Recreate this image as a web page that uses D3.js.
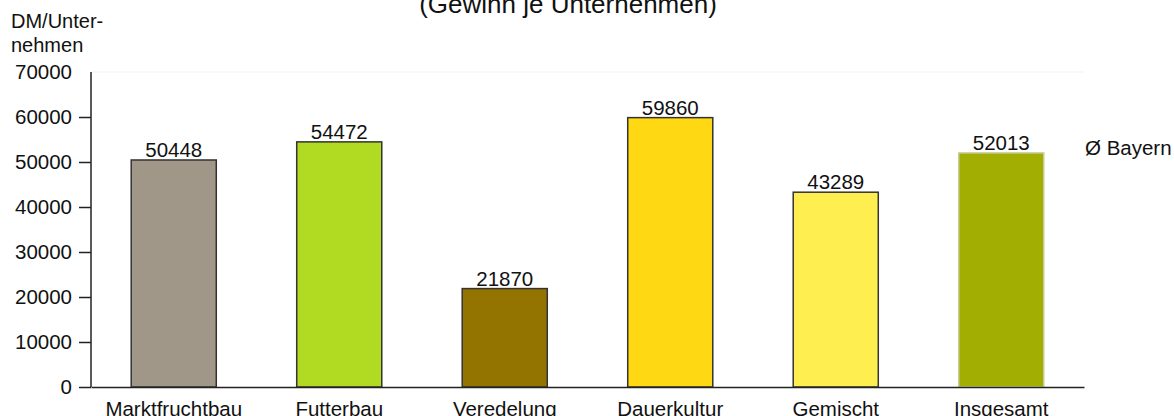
<!DOCTYPE html>
<html>
<head>
<meta charset="utf-8">
<script src="https://cdn.jsdelivr.net/npm/d3@7"></script>
<style>
  html, body { margin: 0; padding: 0; background: #fff; }
  svg { display: block; font-family: "Liberation Sans", Arial, sans-serif; }
</style>
</head>
<body>
<svg id="chart"></svg>
<script>
const categories = ["Marktfruchtbau", "Futterbau", "Veredelung", "Dauerkultur", "Gemischt", "Insgesamt"];
const values = [50448, 54472, 21870, 59860, 43289, 52013];
const yTicks = [0, 10000, 20000, 30000, 40000, 50000, 60000, 70000];
const barColors = ["#a09789", "#b1da22", "#947400", "#fed813", "#ffee4f", "#a3ae02"];
const barStrokes = ["#333", "#333", "#333", "#333", "#333", "#c9cc98"];

const width = 1174;
const height = 416;
const fs = "20.5px";

const svg = d3.select("#chart")
  .attr("width", width)
  .attr("height", height);

const x = d3.scaleBand()
  .domain(categories)
  .range([91, 1084])
  .paddingInner(0.486)
  .paddingOuter(0.243);

const y = d3.scaleLinear()
  .domain([0, 70000])
  .range([387, 72]);

// title (partly cut at the top)
svg.append("text")
  .attr("x", 568)
  .attr("y", 13)
  .attr("text-anchor", "middle")
  .style("font-size", "26px")
  .attr("fill", "#111")
  .text("(Gewinn je Unternehmen)");

// y axis title
svg.append("text")
  .attr("x", 11)
  .attr("y", 28)
  .style("font-size", "20px")
  .attr("fill", "#111")
  .text("DM/Unter-");
svg.append("text")
  .attr("x", 11)
  .attr("y", 52)
  .style("font-size", "20px")
  .attr("fill", "#111")
  .text("nehmen");

// faint plot top line
svg.append("line")
  .attr("x1", 91).attr("x2", 1084)
  .attr("y1", y(70000)).attr("y2", y(70000))
  .attr("stroke", "#f3f3f3")
  .attr("stroke-width", 1);

// bars
svg.append("g")
  .selectAll("rect")
  .data(values)
  .join("rect")
  .attr("x", (d, i) => x(categories[i]))
  .attr("y", d => y(d))
  .attr("width", x.bandwidth())
  .attr("height", d => y(0) - y(d))
  .attr("fill", (d, i) => barColors[i])
  .attr("stroke", (d, i) => barStrokes[i])
  .attr("stroke-width", 1.5);

// value labels
svg.append("g")
  .style("font-size", fs)
  .attr("fill", "#111")
  .selectAll("text")
  .data(values)
  .join("text")
  .attr("x", (d, i) => x(categories[i]) + x.bandwidth() / 2)
  .attr("y", d => y(d) - 3)
  .attr("text-anchor", "middle")
  .text(d => d);

// y axis
const yAxis = svg.append("g")
  .attr("transform", "translate(91,0)")
  .call(d3.axisLeft(y).tickValues(yTicks).tickSize(12).tickPadding(7).tickFormat(d => d));
yAxis.select(".domain").attr("stroke", "#222").attr("stroke-width", 1.5).attr("d", `M0,${y(70000)}V${y(0)}`);
yAxis.selectAll(".tick line").attr("stroke", "#222").attr("stroke-width", 1.5);
yAxis.selectAll(".tick text")
  .style("font-size", fs)
  .style("font-family", "Liberation Sans, Arial, sans-serif")
  .attr("fill", "#111");
yAxis.selectAll(".tick").filter(d => d === 70000).select("line").remove();

// x axis
const xAxis = svg.append("g")
  .attr("transform", `translate(0,${y(0)})`)
  .call(d3.axisBottom(x).tickSize(0).tickPadding(20));
xAxis.select(".domain").attr("stroke", "#222").attr("stroke-width", 1.5);
xAxis.selectAll(".tick text")
  .style("font-size", fs)
  .style("font-family", "Liberation Sans, Arial, sans-serif")
  .attr("fill", "#111")
  .attr("dy", 0)
  .attr("y", 29);

// reference label
svg.append("text")
  .attr("x", 1085)
  .attr("y", y(values[5]) + 2)
  .style("font-size", fs)
  .attr("fill", "#111")
  .text("Ø Bayern");
</script>
</body>
</html>
